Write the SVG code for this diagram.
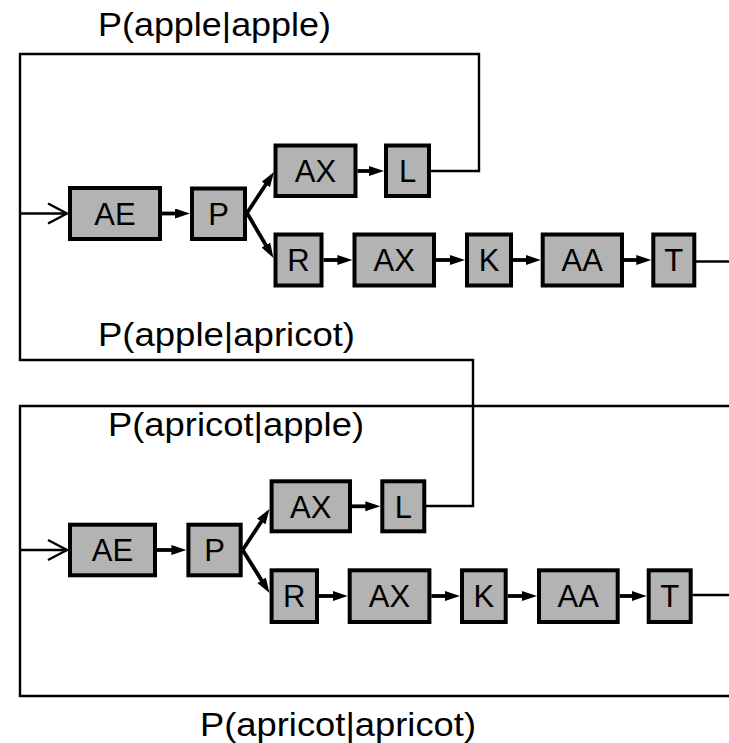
<svg xmlns="http://www.w3.org/2000/svg" width="729" height="743" viewBox="0 0 729 743">
  <style>
    .box rect { fill: #b3b3b3; stroke: #000; stroke-width: 4; }
    .box text { font-family: "Liberation Sans", Arial, sans-serif; font-size: 31px; text-anchor: middle; fill: #000; }
    .lbl { font-family: "Liberation Sans", Arial, sans-serif; font-size: 33px; fill: #000; }
    .wire { fill: none; stroke: #000; stroke-width: 2.4; }
    .arr { fill: none; stroke: #000; stroke-width: 3.8; marker-end: url(#head); }
    .entry { fill: none; stroke: #000; stroke-width: 2.4; }
  </style>
  <defs>
    <marker id="head" markerUnits="userSpaceOnUse" markerWidth="17" markerHeight="11" refX="7" refY="5" orient="auto">
      <path d="M0,0 L15,5 L0,10 Z" fill="#000"/>
    </marker>
  </defs>

  <rect width="729" height="743" fill="#fff"/>

  <!-- transition labels -->
  <g id="labels">
    <text class="lbl" x="98" y="36" textLength="233" lengthAdjust="spacingAndGlyphs">P(apple|apple)</text>
    <text class="lbl" x="98" y="346" textLength="257" lengthAdjust="spacingAndGlyphs">P(apple|apricot)</text>
    <text class="lbl" x="108" y="436" textLength="256" lengthAdjust="spacingAndGlyphs">P(apricot|apple)</text>
    <text class="lbl" x="200" y="736" textLength="276" lengthAdjust="spacingAndGlyphs">P(apricot|apricot)</text>
  </g>

  <!-- connectors -->
  <g id="connectors">
    <!-- loop from apple's L back to both word starts -->
    <polyline class="wire" points="431,171 479,171 479,54 20,54 20,360 473,360 473,506 426,506"/>
    <!-- frame around apricot -->
    <polyline class="wire" points="729,406 20,406 20,696 729,696"/>
    <!-- word exits -->
    <line class="wire" x1="696" y1="261.5" x2="729" y2="261.5"/>
    <line class="wire" x1="692.5" y1="595" x2="729" y2="595"/>

    <!-- entries -->
    <line class="entry" x1="20" y1="213.5" x2="67" y2="213.5"/>
    <polyline class="entry" points="48,203.5 67,213.5 48,223.5"/>
    <line class="entry" x1="20" y1="550" x2="67" y2="550"/>
    <polyline class="entry" points="48,540 67,550 48,560"/>

    <!-- apple -->
    <line class="arr" x1="162" y1="213.5" x2="182" y2="213.5"/>
    <line class="arr" x1="247" y1="213" x2="269.6" y2="178.7"/>
    <line class="arr" x1="247" y1="213" x2="269.4" y2="251.1"/>
    <line class="arr" x1="357.5" y1="171" x2="376" y2="171"/>
    <line class="arr" x1="323.5" y1="260" x2="344.4" y2="260"/>
    <line class="arr" x1="436" y1="260" x2="457" y2="260"/>
    <line class="arr" x1="513" y1="260" x2="532.7" y2="260"/>
    <line class="arr" x1="624" y1="260" x2="643.3" y2="260"/>

    <!-- apricot -->
    <line class="arr" x1="157" y1="550" x2="178.4" y2="550"/>
    <line class="arr" x1="242.7" y1="550" x2="265.1" y2="515.7"/>
    <line class="arr" x1="242.7" y1="550" x2="265.3" y2="586.2"/>
    <line class="arr" x1="352" y1="506.3" x2="372.3" y2="506.3"/>
    <line class="arr" x1="319" y1="596" x2="339.7" y2="596"/>
    <line class="arr" x1="431.4" y1="596" x2="452" y2="596"/>
    <line class="arr" x1="507.7" y1="596" x2="529" y2="596"/>
    <line class="arr" x1="619.7" y1="596" x2="638.7" y2="596"/>
  </g>

  <!-- apple phones -->
  <g id="apple-AE" class="box"><rect x="70" y="188" width="90" height="51"/><text x="115" y="224.5">AE</text></g>
  <g id="apple-P" class="box"><rect x="192" y="188.5" width="53" height="50.5"/><text x="218.5" y="224.5">P</text></g>
  <g id="apple-AX1" class="box"><rect x="275.5" y="145.5" width="80" height="50.5"/><text x="315.5" y="182">AX</text></g>
  <g id="apple-L" class="box"><rect x="386" y="145.5" width="43" height="50.5"/><text x="407.5" y="182">L</text></g>
  <g id="apple-R" class="box"><rect x="275.5" y="234.5" width="46" height="51"/><text x="298.5" y="271">R</text></g>
  <g id="apple-AX2" class="box"><rect x="354.5" y="234.5" width="79.5" height="51"/><text x="394.2" y="271">AX</text></g>
  <g id="apple-K" class="box"><rect x="467" y="234.5" width="44" height="51"/><text x="489" y="271">K</text></g>
  <g id="apple-AA" class="box"><rect x="542.7" y="234.5" width="79.3" height="51"/><text x="582.3" y="271">AA</text></g>
  <g id="apple-T" class="box"><rect x="653.3" y="234.5" width="41" height="51"/><text x="673.8" y="271">T</text></g>

  <!-- apricot phones -->
  <g id="apricot-AE" class="box"><rect x="70" y="524.7" width="85" height="50.6"/><text x="112.5" y="561">AE</text></g>
  <g id="apricot-P" class="box"><rect x="188.4" y="524.7" width="52.3" height="50.6"/><text x="214.5" y="561">P</text></g>
  <g id="apricot-AX1" class="box"><rect x="271.6" y="481.3" width="78.4" height="50"/><text x="310.8" y="517.5">AX</text></g>
  <g id="apricot-L" class="box"><rect x="382.3" y="481.3" width="42" height="50"/><text x="403.3" y="517.5">L</text></g>
  <g id="apricot-R" class="box"><rect x="271.6" y="570.3" width="45.4" height="51.7"/><text x="294.3" y="607">R</text></g>
  <g id="apricot-AX2" class="box"><rect x="349.7" y="570.3" width="79.7" height="51.7"/><text x="389.5" y="607">AX</text></g>
  <g id="apricot-K" class="box"><rect x="462" y="570.3" width="43.7" height="51.7"/><text x="483.8" y="607">K</text></g>
  <g id="apricot-AA" class="box"><rect x="539" y="570.3" width="78.7" height="51.7"/><text x="578.3" y="607">AA</text></g>
  <g id="apricot-T" class="box"><rect x="648.7" y="570.3" width="42" height="51.7"/><text x="669.7" y="607">T</text></g>
</svg>
